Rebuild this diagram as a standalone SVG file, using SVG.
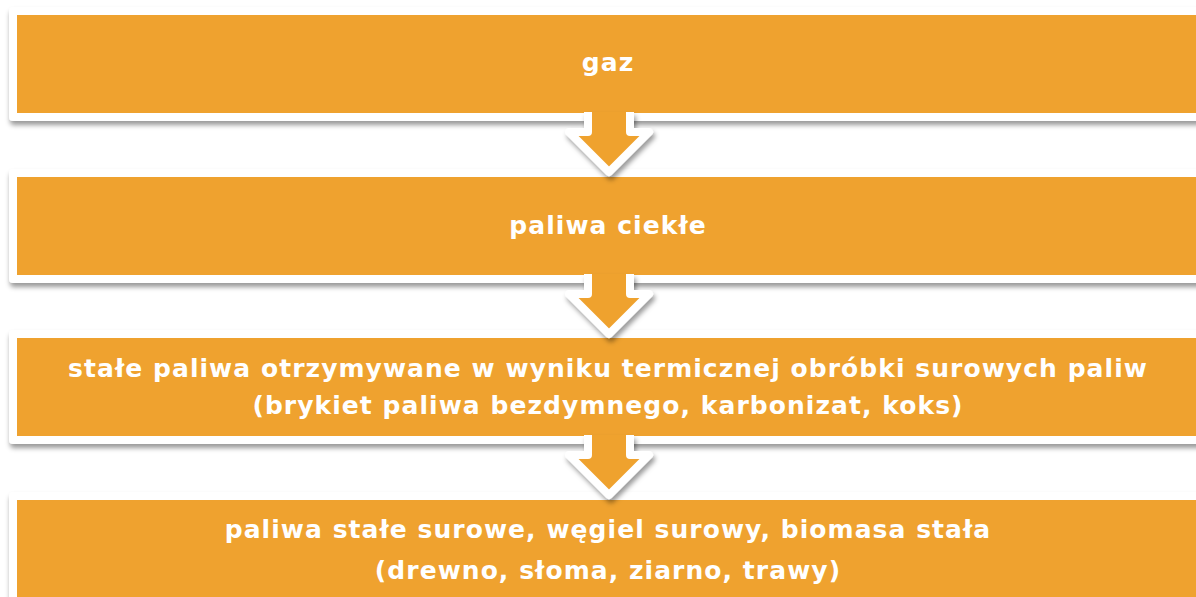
<svg xmlns="http://www.w3.org/2000/svg" width="1196" height="597" viewBox="0 0 1196 597">
<defs>
<filter id="sh" x="-5%" y="-20%" width="110%" height="150%">
<feDropShadow dx="1" dy="4" stdDeviation="2.5" flood-color="#000" flood-opacity="0.4"/>
</filter>
<filter id="ash" x="-30%" y="-30%" width="160%" height="160%">
<feDropShadow dx="2" dy="4" stdDeviation="2.5" flood-color="#000" flood-opacity="0.4"/>
</filter>
</defs>
<style>
.frame{fill:#fff}
.box{fill:#EFA22F}
.arrow{fill:#EFA22F;stroke:#fff;stroke-width:8;stroke-linejoin:round}
.t{font-family:"DejaVu Sans","Verdana",sans-serif;font-weight:bold;font-size:25px;letter-spacing:1.05px;fill:#fff;text-anchor:middle}
</style>
<rect width="1196" height="597" fill="#fff"/>
<g id="node1">
<rect class="frame" x="9" y="7" width="1220" height="114" rx="4" filter="url(#sh)"/>
<rect class="box" x="17" y="15" width="1210" height="98"/>
<text class="t" x="608" y="71">gaz</text>
</g>
<g id="node2">
<rect class="frame" x="9" y="169" width="1220" height="114" rx="4" filter="url(#sh)"/>
<rect class="box" x="17" y="177" width="1210" height="98"/>
<text class="t" x="608" y="234">paliwa ciekłe</text>
</g>
<g id="node3">
<rect class="frame" x="9" y="330" width="1220" height="114" rx="4" filter="url(#sh)"/>
<rect class="box" x="17" y="338" width="1210" height="98"/>
<text class="t" x="608" y="377">stałe paliwa otrzymywane w wyniku termicznej obróbki surowych paliw</text>
<text class="t" x="608" y="414">(brykiet paliwa bezdymnego, karbonizat, koks)</text>
</g>
<g id="node4">
<rect class="frame" x="9" y="492" width="1220" height="130" rx="4" filter="url(#sh)"/>
<rect class="box" x="17" y="500" width="1210" height="120"/>
<text class="t" x="608" y="538">paliwa stałe surowe, węgiel surowy, biomasa stała</text>
<text class="t" x="608" y="579">(drewno, słoma, ziarno, trawy)</text>
</g>
<g id="connectors" filter="url(#ash)">
<path class="arrow" d="M588,112 V132 H569 L609,172 L649,132 H630 V112"/>
<path class="arrow" d="M588,274 V294 H569 L609,334 L649,294 H630 V274"/>
<path class="arrow" d="M588,435 V455 H569 L609,495 L649,455 H630 V435"/>
</g>
</svg>
